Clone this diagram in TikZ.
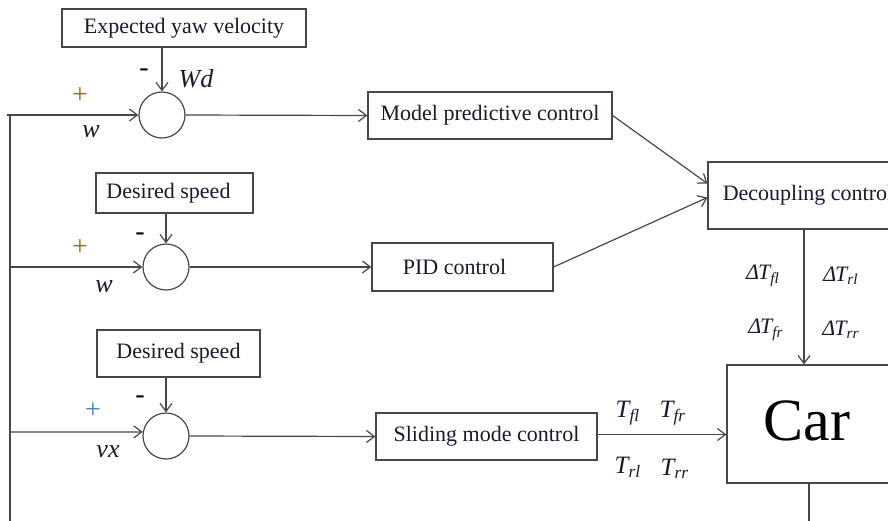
\documentclass[tikz,border=0pt]{standalone}
\usepackage{fontspec}
\setmainfont{Liberation Serif}
\usetikzlibrary{arrows.meta}
\definecolor{plusA}{RGB}{150,105,40}
\definecolor{plusB}{RGB}{70,130,190}
\definecolor{ink}{RGB}{25,25,45}
\begin{document}
\begin{tikzpicture}[x=0.5pt,y=-0.5pt,
  line/.style={draw=black!72, line width=0.6pt},
  arr/.style={line, -{Straight Barb[length=4pt,width=6pt]}},
  box/.style={draw=black!72, line width=0.6pt, rectangle, inner sep=0pt, font=\fontsize{11}{13}\selectfont, text=ink},
  sumc/.style={draw=black!72, line width=0.6pt, circle, minimum size=23pt, inner sep=0pt},
  lbl/.style={font=\fontsize{13}{15}\selectfont\itshape, inner sep=0pt, text=ink},
  dlbl/.style={font=\fontsize{11}{13}\selectfont\itshape, inner sep=0pt, text=ink},
  tlbl/.style={font=\fontsize{12.5}{15}\selectfont\itshape, inner sep=0pt, text=ink},
  sgn/.style={font=\fontsize{14}{16}\selectfont, inner sep=0pt}]
\clip (0,0) rectangle (888,520);
\useasboundingbox (0,0) rectangle (888,520);

% boxes
\node[box, minimum width=122pt, minimum height=19pt] (ey) at (184,28) {Expected yaw velocity};
\node[sumc] (s1) at (162,115) {};
\node[box, minimum width=122pt, minimum height=23.5pt] (mpc) at (490,115.5) {Model predictive control};
\node[box, minimum width=78.5pt, minimum height=20pt] (ds1) at (174.5,193) {\hspace*{-6pt}Desired speed};
\node[sumc] (s2) at (166,267) {};
\node[box, minimum width=90.5pt, minimum height=24pt] (pid) at (462.5,267) {\hspace*{-8pt}PID control};
\node[box, minimum width=81.5pt, minimum height=23.5pt] (ds2) at (178.5,353.5) {Desired speed};
\node[sumc] (s3) at (166,436) {};
\node[box, minimum width=110.5pt, minimum height=23.5pt] (smc) at (486.5,436.5) {Sliding mode control};
\node[box, minimum width=100pt, minimum height=33.5pt] (dec) at (808,195.5) {Decoupling control};
\node[box, minimum width=86.5pt, minimum height=59pt] (car) at (813.5,424) {};
\node[font=\fontsize{30}{34}\selectfont, inner sep=0pt] (cartext) at (807,421) {Car};

% feedback line coordinates
\coordinate (in1) at (7,115);
\coordinate (top) at (10,115);
\coordinate (bot) at (10,525);
\coordinate (in2) at (10,267);
\coordinate (in3) at (10,432);

% connectors
\draw[line] (top) -- (bot);
\draw[arr] (in1) -- (s1.west);
\draw[arr] (in2) -- (s2.west);
\draw[arr] (in3) -- (s3.170);
\draw[arr] (ey.south -| s1.north) -- (s1.north);
\draw[arr] (ds1.south -| s2.north) -- (s2.north);
\draw[arr] (ds2.south -| s3.north) -- (s3.north);
\draw[arr] (s1.east) -- (mpc.west);
\draw[arr] (s2.east) -- (pid.west);
\draw[arr] (s3.east) -- (smc.west);
\draw[arr] (mpc.east) -- ([yshift=6pt]dec.west);
\draw[arr] (pid.east) -- ([yshift=-1pt]dec.west);
\draw[arr] ([xshift=-2pt]dec.south) -- ([xshift=-2pt]dec.south |- car.north);
\draw[arr] ([yshift=1pt]smc.east) -- ([yshift=1pt]smc.east -| car.west);
\coordinate (carout) at (809,525);
\draw[line] (car.south -| carout) -- (carout);

% signs and labels
\node[sgn] (m1) at (144,73) {-};
\node[sgn] (m2) at (140,237) {-};
\node[sgn] (m3) at (140,400) {-};
\node[sgn, text=plusA] (p1) at (80,96) {+};
\node[sgn, text=plusA] (p2) at (80,248) {+};
\node[sgn, text=plusB] (p3) at (93,411) {+};
\node[lbl] (wd) at (196,79) {Wd};
\node[lbl] (w1) at (91,132) {w};
\node[lbl] (w2) at (104,287) {w};
\node[lbl] (vx) at (108,452) {vx};

\node[dlbl] (dfl) at (763,276) {Δ\kern-0.5pt T\textsubscript{fl}};
\node[dlbl] (drl) at (841,276) {Δ\kern-0.5pt T\textsubscript{rl}};
\node[dlbl] (dfr) at (766,330) {Δ\kern-0.5pt T\textsubscript{fr}};
\node[dlbl] (drr) at (841,330) {Δ\kern-0.5pt T\textsubscript{rr}};

\node[tlbl] (tfl) at (628,413) {T\textsubscript{fl}};
\node[tlbl] (tfr) at (673,413) {T\textsubscript{fr}};
\node[tlbl] (trl) at (628,467) {T\textsubscript{rl}};
\node[tlbl] (trr) at (675,469) {T\textsubscript{rr}};
\end{tikzpicture}
\end{document}
